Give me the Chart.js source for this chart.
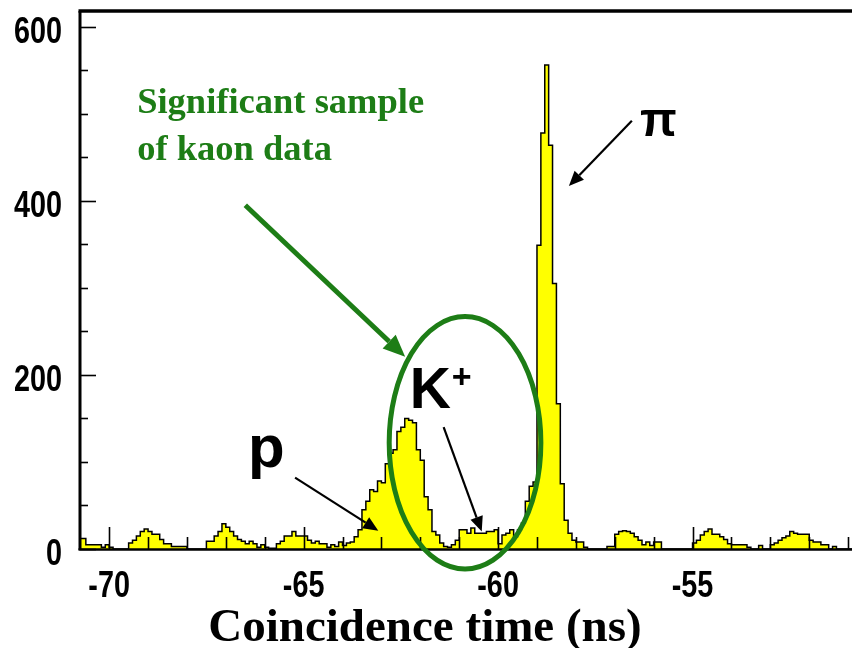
<!DOCTYPE html>
<html>
<head>
<meta charset="utf-8">
<script src="https://cdn.jsdelivr.net/npm/chart.js@4.4.0/dist/chart.umd.min.js"></script>
<style>
  html, body { margin: 0; padding: 0; background: #fff; overflow: hidden; }
  canvas { display: block; }
</style>
</head>
<body>
<canvas id="c" width="852" height="648"></canvas>
<script>
// Coincidence-time histogram, 0.1 ns bins starting at -70.8 ns
const binLow = -70.8;
const binWidth = 0.1;
const counts = [
  12, 12, 5, 5, 5, 5, 2, 5, 2, 0,
  0, 0, 0, 7, 10, 15, 20, 23, 20, 17,
  17, 11, 6, 6, 3, 3, 3, 3, 0, 0,
  0, 0, 0, 9, 9, 15, 20, 29, 25, 20,
  15, 11, 9, 6, 9, 6, 2, 5, 2, 1,
  1, 6, 9, 15, 15, 20, 15, 15, 15, 10,
  7, 9, 6, 6, 2, 5, 3, 8, 4, 7,
  8, 14, 22, 45, 55, 68, 66, 78, 76, 98,
  110, 114, 135, 140, 150, 148, 145, 114, 102, 60,
  45, 20, 16, 7, 3, 2, 5, 10, 22, 22,
  18, 24, 18, 18, 18, 20, 20, 22, 6, 16,
  18, 22, 14, 22, 30, 55, 72, 77, 349, 478,
  556, 464, 305, 167, 75, 33, 18, 10, 8, 8,
  2, 0, 0, 0, 0, 0, 3, 3, 17, 20,
  21, 20, 18, 14, 10, 5, 8, 4, 8, 8,
  0, 0, 0, 0, 0, 0, 0, 0, 7, 10,
  16, 20, 23, 17, 17, 14, 11, 6, 5, 5,
  5, 5, 2, 0, 0, 4, 0, 0, 5, 7,
  10, 13, 15, 20, 18, 17, 17, 17, 10, 8,
  8, 5, 5, 0, 3, 0, 0, 0, 0, 0
];

// Axis ranges and labelled ticks
const xRange = [-70.75, -50.9];
const yRange = [0, 617];
const xTickValues = [-70, -65, -60, -55];
const yTickValues = [0, 200, 400, 600];
const xMinorStep = 1, xMajorStep = 5;
const yMinorStep = 50, yMajorStep = 200;
const xTitle = 'Coincidence time (ns)';

// Step outline: one point per left bin edge, plus the closing right edge
const points = counts.map((c, i) => ({ x: +(binLow + i * binWidth).toFixed(2), y: c }));
points.push({ x: +(binLow + counts.length * binWidth).toFixed(2), y: counts[counts.length - 1] });

const GREEN = '#1d7d16';
const TICK_FONT = "bold 36px 'Liberation Sans', Arial, sans-serif";

function arrow(ctx, x1, y1, x2, y2, color, lw, headLen, headW) {
  const a = Math.atan2(y2 - y1, x2 - x1);
  const bx = x2 - headLen * Math.cos(a), by = y2 - headLen * Math.sin(a);
  ctx.strokeStyle = color; ctx.lineWidth = lw; ctx.lineCap = 'butt';
  ctx.beginPath(); ctx.moveTo(x1, y1); ctx.lineTo(bx, by); ctx.stroke();
  ctx.fillStyle = color;
  ctx.beginPath();
  ctx.moveTo(x2, y2);
  ctx.lineTo(bx + headW / 2 * Math.sin(a), by - headW / 2 * Math.cos(a));
  ctx.lineTo(bx - headW / 2 * Math.sin(a), by + headW / 2 * Math.cos(a));
  ctx.closePath(); ctx.fill();
}

// narrow bold tick label
function narrowText(ctx, text, px, baseline, align) {
  ctx.save();
  ctx.translate(px, baseline);
  ctx.scale(0.8, 1);
  ctx.textAlign = align;
  ctx.textBaseline = 'alphabetic';
  ctx.fillText(text, 0, 0);
  ctx.restore();
}

// Frame, inward tick marks, tick labels, axis title and the particle annotations
const decorations = {
  id: 'decorations',
  afterDatasetsDraw(chart) {
    const { ctx, chartArea: a, scales: { x, y } } = chart;
    ctx.save();
    ctx.strokeStyle = '#000';
    // x ticks pointing up from the bottom axis
    ctx.lineWidth = 1.6;
    for (let v = Math.ceil(xRange[0]); v <= xRange[1]; v += xMinorStep) {
      const px = Math.round(x.getPixelForValue(v)) + 0.5;
      const len = (v % xMajorStep === 0) ? 22 : 12;
      ctx.beginPath(); ctx.moveTo(px, a.bottom); ctx.lineTo(px, a.bottom - len); ctx.stroke();
    }
    // y ticks pointing right from the left axis
    for (let v = 0; v <= yRange[1]; v += yMinorStep) {
      const py = Math.round(y.getPixelForValue(v)) + 0.5;
      const len = (v % yMajorStep === 0) ? 16 : 8;
      ctx.beginPath(); ctx.moveTo(a.left, py); ctx.lineTo(a.left + len, py); ctx.stroke();
    }
    // frame: left, top and bottom edges
    ctx.lineWidth = 3;
    ctx.beginPath(); ctx.moveTo(a.left, a.bottom + 1); ctx.lineTo(a.left, a.top - 1); ctx.stroke();
    ctx.lineWidth = 3.5;
    ctx.beginPath(); ctx.moveTo(a.left - 1.5, a.top - 1); ctx.lineTo(a.right, a.top - 1); ctx.stroke();
    ctx.lineWidth = 2.5;
    ctx.beginPath(); ctx.moveTo(a.left - 1.5, a.bottom + 0.5); ctx.lineTo(a.right, a.bottom + 0.5); ctx.stroke();

    // tick labels
    ctx.fillStyle = '#000';
    ctx.font = TICK_FONT;
    x.ticks.forEach(t => narrowText(ctx, String(t.value), x.getPixelForValue(t.value), a.bottom + 48, 'center'));
    y.ticks.forEach(t => narrowText(ctx, String(t.value), a.left - 18, y.getPixelForValue(t.value) + 16, 'right'));
    ctx.restore();
  },
  afterDraw(chart) {
    const { ctx, scales: { x, y } } = chart;
    const P = (vx, vy) => [x.getPixelForValue(vx), y.getPixelForValue(vy)];
    ctx.save();

    // axis title
    ctx.fillStyle = '#000';
    ctx.font = "bold 47px 'Liberation Serif', 'Times New Roman', serif";
    ctx.textAlign = 'center'; ctx.textBaseline = 'alphabetic';
    ctx.fillText(xTitle, 425, 641);

    // kaon note
    ctx.fillStyle = GREEN;
    ctx.textAlign = 'left';
    ctx.font = "bold 36.5px 'Liberation Serif', 'Times New Roman', serif";
    let p = P(-69.28, 501); ctx.fillText('Significant sample', p[0], p[1]);
    p = P(-69.28, 447); ctx.fillText('of kaon data', p[0], p[1]);
    let s = P(-66.5, 395), e = P(-62.39, 221);
    arrow(ctx, s[0], s[1], e[0], e[1], GREEN, 5, 22, 19);

    // ellipse round the kaon region
    const c = P(-60.85, 122);
    const rx = x.getPixelForValue(-60.85 + 1.95) - c[0];
    const ry = c[1] - y.getPixelForValue(122 + 145);
    ctx.strokeStyle = GREEN; ctx.lineWidth = 5;
    ctx.beginPath(); ctx.ellipse(c[0], c[1], rx, ry, 0, 0, Math.PI * 2); ctx.stroke();

    // particle labels
    ctx.fillStyle = '#000';
    ctx.font = "bold 57px 'Liberation Sans', Arial, sans-serif";
    p = P(-62.27, 162); ctx.fillText('K', p[0], p[1]);
    ctx.font = "bold 34px 'Liberation Sans', Arial, sans-serif";
    p = P(-61.19, 185); ctx.fillText('+', p[0], p[1]);
    ctx.font = "bold 60px 'Liberation Sans', Arial, sans-serif";
    p = P(-66.43, 94); ctx.fillText('p', p[0], p[1]);
    ctx.font = "bold 48px 'Liberation Sans', Arial, sans-serif";
    p = P(-56.35, 474); ctx.fillText('\u03c0', p[0], p[1]);

    s = P(-61.40, 140); e = P(-60.42, 20);
    arrow(ctx, s[0], s[1], e[0], e[1], '#000', 2.2, 15, 13);
    s = P(-65.22, 82); e = P(-63.08, 21);
    arrow(ctx, s[0], s[1], e[0], e[1], '#000', 2.2, 15, 13);
    s = P(-56.56, 492); e = P(-58.18, 417);
    arrow(ctx, s[0], s[1], e[0], e[1], '#000', 2.2, 15, 13);

    ctx.restore();
  }
};

function noEdgePadding(s) {
  s.paddingTop = 0; s.paddingBottom = 0; s.paddingLeft = 0; s.paddingRight = 0;
}

new Chart(document.getElementById('c').getContext('2d'), {
  type: 'line',
  data: {
    datasets: [{
      data: points,
      stepped: 'before',
      fill: 'origin',
      backgroundColor: '#ffff00',
      borderColor: '#000',
      borderWidth: 1.5,
      pointRadius: 0,
      tension: 0
    }]
  },
  options: {
    responsive: false,
    animation: false,
    devicePixelRatio: 1,
    layout: { padding: { left: 0, right: 0, top: 12, bottom: 0 } },
    plugins: { legend: { display: false }, tooltip: { enabled: false } },
    scales: {
      x: {
        type: 'linear', min: xRange[0], max: xRange[1],
        grid: { display: false }, border: { display: false },
        afterBuildTicks: s => { s.ticks = xTickValues.map(v => ({ value: v })); },
        afterFit: s => { s.height = 99; noEdgePadding(s); },
        ticks: { display: false }
      },
      y: {
        type: 'linear', min: yRange[0], max: yRange[1],
        grid: { display: false }, border: { display: false },
        afterBuildTicks: s => { s.ticks = yTickValues.map(v => ({ value: v })); },
        afterFit: s => { s.width = 80; noEdgePadding(s); },
        ticks: { display: false }
      }
    }
  },
  plugins: [decorations]
});
</script>
</body>
</html>
